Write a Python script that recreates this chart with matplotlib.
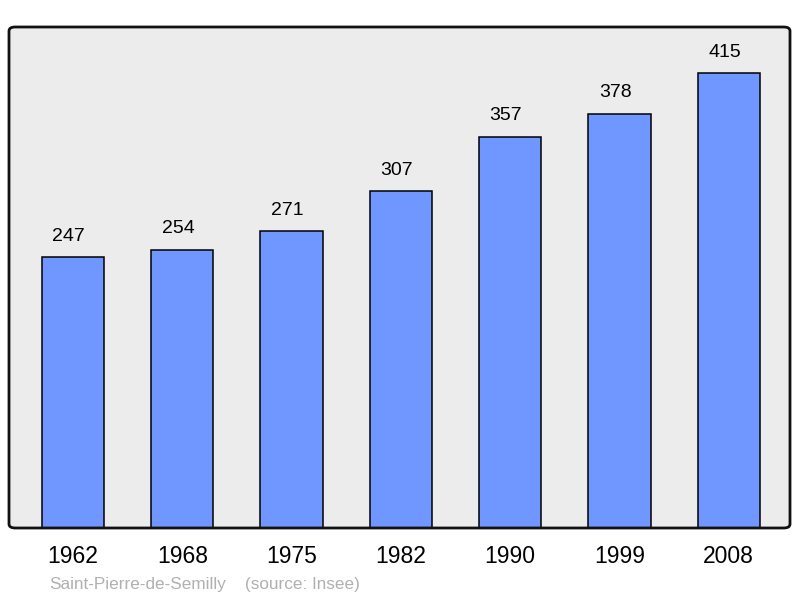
import numpy as np
import matplotlib.pyplot as plt
from matplotlib.patches import FancyBboxPatch

plt.rcParams['font.family'] = ['Liberation Sans', 'DejaVu Sans']

years = ['1962', '1968', '1975', '1982', '1990', '1999', '2008']
population = [247, 254, 271, 307, 357, 378, 415]
commune = 'Saint-Pierre-de-Semilly'
source = '(source: Insee)'

fig = plt.figure(figsize=(8, 5.98), dpi=100)
ax = fig.add_axes([9 / 800, 1 - 528 / 598, 781 / 800, 501 / 598])
ax.set_facecolor('#ececec')

x = np.arange(len(years))
ax.bar(x, population, width=0.57, color='#7096ff', edgecolor='black',
       linewidth=1.1, zorder=2)
for xi, v in zip(x, population):
    ax.text(xi - 0.04, v + 19, str(v), ha='center', va='center', fontsize=14)

ax.set_xlim(-0.585, 6.56)
ax.set_ylim(0, 457)
ax.set_yticks([])
ax.set_xticks(x)
ax.set_xticklabels(years, fontsize=16.5)
ax.tick_params(axis='x', length=0, pad=12)
for s in ax.spines.values():
    s.set_visible(False)

frame = FancyBboxPatch((0, 0), 1, 1, boxstyle='round,pad=0,rounding_size=0.008',
                       transform=ax.transAxes, fill=False, edgecolor='#111111',
                       linewidth=2, zorder=5, clip_on=False)
ax.add_patch(frame)

fig.text(49 / 800, 1 - 584 / 598, commune, color='#b0b0b0', fontsize=12.3, va='center')
fig.text(245 / 800, 1 - 584 / 598, source, color='#b0b0b0', fontsize=12.3, va='center')

fig.savefig('out.png', dpi=100)
